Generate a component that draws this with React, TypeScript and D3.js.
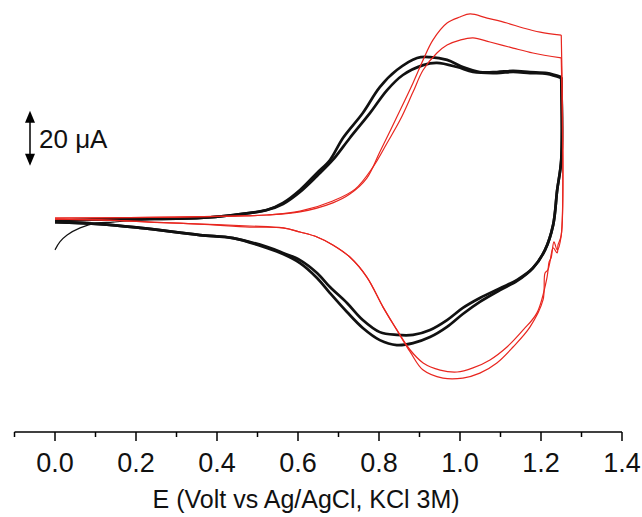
import React from "react";
import * as d3 from "d3";

// ---------- data (E in V vs Ag/AgCl, I in µA) ----------
const blackFwdA_V = [0, 0.111, 0.21, 0.358, 0.44, 0.523, 0.563, 0.605, 0.647, 0.679, 0.711, 0.76, 0.802, 0.844, 0.894, 0.926, 0.968, 1.007, 1.049, 1.091, 1.131, 1.173, 1.215, 1.25];
const blackFwdA_I = [-1.1, -0.5, -0.4, 0, 1.1, 2.9, 5.5, 10.2, 16.4, 21.1, 29.1, 38.2, 47.6, 53.8, 58.2, 58.5, 57.5, 54.9, 53.1, 53.1, 53.5, 53.1, 52.7, 51.3];

const blackFwdB_V = [0, 0.111, 0.21, 0.358, 0.44, 0.523, 0.563, 0.605, 0.647, 0.686, 0.728, 0.778, 0.82, 0.859, 0.909, 0.943, 0.993, 1.032, 1.091, 1.131, 1.173, 1.215, 1.25];
const blackFwdB_I = [-1.1, -0.5, -0.4, 0, 1.1, 2.9, 5.1, 9.5, 15.3, 21.1, 29.1, 38.2, 46.5, 52.0, 55.6, 56.4, 54.9, 53.1, 52.7, 53.1, 52.7, 52.4, 50.9];

const blackRevA_V = [1.25, 1.25, 1.24, 1.23, 1.21, 1.18, 1.141, 1.099, 1.049, 1.007, 0.968, 0.926, 0.884, 0.844, 0.802, 0.76, 0.721, 0.679, 0.647, 0.605, 0.563, 0.523, 0.44, 0.358, 0.21, 0.111, 0];
const blackRevA_I = [51.3, 21.1, 10.2, -2.5, -11.6, -18.2, -22.5, -25.5, -29.1, -32.7, -37.1, -40.7, -42.5, -42.5, -41.5, -37.1, -30.9, -25.1, -20.0, -15.3, -12.7, -10.5, -7.3, -6.2, -3.6, -2.2, -1.5];

const blackRevB_V = [1.25, 1.25, 1.24, 1.23, 1.21, 1.18, 1.141, 1.099, 1.049, 1.007, 0.968, 0.926, 0.884, 0.844, 0.802, 0.76, 0.721, 0.679, 0.647, 0.605, 0.563, 0.523, 0.44, 0.358, 0.21, 0.111, 0];
const blackRevB_I = [50.9, 21.1, 10.2, -2.5, -11.6, -18.2, -22.9, -26.2, -30.5, -34.9, -39.6, -43.3, -45.5, -46.2, -44.4, -40.0, -34.2, -27.3, -21.8, -16.4, -13.1, -10.9, -7.3, -6.2, -3.6, -2.2, -1.5];

const blackStart_V = [0, 0.012, 0.03, 0.062, 0.104, 0.143, 0.21, 0.358];
const blackStart_I = [-11.6, -8.7, -6.2, -3.6, -1.8, -1.5, -0.7, 0];

const redFwdA_V = [0, 0.235, 0.44, 0.523, 0.605, 0.686, 0.728, 0.77, 0.802, 0.844, 0.884, 0.909, 0.933, 0.968, 1.0, 1.025, 1.067, 1.116, 1.156, 1.198, 1.25];
const redFwdA_I = [0, 0.2, 0.7, 1.1, 2.2, 5.5, 8.7, 14.5, 24.0, 36.7, 49.1, 57.5, 64.7, 70.9, 73.1, 74.2, 72.7, 70.9, 69.1, 67.6, 66.5];

const redFwdB_V = [0, 0.235, 0.44, 0.523, 0.605, 0.686, 0.741, 0.785, 0.82, 0.852, 0.884, 0.909, 0.943, 0.968, 1.0, 1.032, 1.074, 1.131, 1.18, 1.25];
const redFwdB_I = [0, 0.2, 0.7, 1.1, 2.5, 6.2, 10.5, 18.5, 27.3, 35.6, 45.8, 53.8, 60.0, 62.9, 64.7, 65.5, 64.0, 61.8, 60.0, 58.2];

const redRevA_V = [1.25, 1.25, 1.242, 1.24, 1.23, 1.222, 1.217, 1.21, 1.205, 1.173, 1.131, 1.091, 1.049, 1.007, 0.958, 0.909, 0.877, 0.844, 0.81, 0.77, 0.728, 0.686, 0.647, 0.605, 0.563, 0.481, 0.358, 0.235, 0.111, 0];
const redRevA_I = [66.5, -6.2, -9.8, -12.7, -10.9, -16.0, -18.9, -20.0, -29.8, -39.6, -46.9, -52.7, -56.4, -58.2, -58.2, -55.3, -48.7, -40.7, -32.4, -21.5, -14.2, -9.8, -6.9, -5.1, -3.6, -2.9, -2.2, -1.5, -0.7, -0.4];

const redRevB_V = [1.25, 1.25, 1.24, 1.232, 1.225, 1.22, 1.215, 1.19, 1.156, 1.116, 1.074, 1.032, 0.993, 0.951, 0.909, 0.877, 0.844, 0.81, 0.77, 0.728, 0.686, 0.647, 0.605, 0.563, 0.481, 0.358, 0.235, 0.111, 0];
const redRevB_I = [58.2, -6.2, -11.6, -8.7, -14.5, -16.0, -21.5, -34.5, -40.7, -46.9, -51.6, -54.5, -56.0, -55.3, -52.7, -48.0, -40.7, -32.4, -21.5, -14.2, -9.8, -6.9, -5.1, -3.6, -3.3, -2.2, -1.5, -0.7, -0.4];

const xTicks = [0.0, 0.2, 0.4, 0.6, 0.8, 1.0, 1.2, 1.4];
const xMinorTicks = [-0.1, 0.1, 0.3, 0.5, 0.7, 0.9, 1.1, 1.3];
const xTitle = "E (Volt vs Ag/AgCl, KCl 3M)";
const scaleBarValue = 20; // µA
const scaleBarTop = 39; // µA level of the upper arrow tip
const scaleBarLabel = "20 \u03bcA";

const W = 642;
const H = 517;

const x = d3.scaleLinear().domain([-0.1, 1.4]).range([14.5, 622]);
const y = d3.scaleLinear().domain([-80, 80]).range([438, -2]);
const axisY = 432;

const lineGen = d3
  .line<[number, number]>()
  .x((d) => x(d[0]))
  .y((d) => y(d[1]))
  .curve(d3.curveCatmullRom.alpha(0.5));

function path(vs: number[], is: number[]) {
  return lineGen(vs.map((v, i) => [v, is[i]] as [number, number])) || "";
}

export default function App() {
  React.useEffect(() => {
    document.body.style.margin = "0";
  }, []);

  const font = "Arial, 'Liberation Sans', Helvetica, sans-serif";
  const barX = 30;
  const yTop = y(scaleBarTop);
  const yBot = y(scaleBarTop - scaleBarValue);

  return (
    <svg width={W} height={H} viewBox={`0 0 ${W} ${H}`} style={{ display: "block", background: "#fff" }}>
      {/* black curves */}
      <g fill="none" stroke="#111" strokeWidth={2.7} strokeLinejoin="round">
        <path d={path(blackFwdA_V, blackFwdA_I)} />
        <path d={path(blackFwdB_V, blackFwdB_I)} />
        <path d={path(blackRevA_V, blackRevA_I)} />
        <path d={path(blackRevB_V, blackRevB_I)} />
        <path d={path(blackStart_V, blackStart_I)} strokeWidth={1.2} />
      </g>
      {/* red curves */}
      <g fill="none" stroke="#e8261f" strokeWidth={1.2} strokeLinejoin="round">
        <path d={path(redFwdA_V, redFwdA_I)} />
        <path d={path(redFwdB_V, redFwdB_I)} />
        <path d={path(redRevA_V, redRevA_I)} />
        <path d={path(redRevB_V, redRevB_I)} />
      </g>

      {/* x axis */}
      <g stroke="#000" strokeWidth={1.5}>
        <line x1={x(-0.1)} x2={x(1.4)} y1={axisY} y2={axisY} />
        {xTicks.map((t) => (
          <line key={"M" + t} x1={x(t)} x2={x(t)} y1={axisY} y2={axisY + 9} />
        ))}
        {xMinorTicks.map((t) => (
          <line key={"m" + t} x1={x(t)} x2={x(t)} y1={axisY} y2={axisY + 5} />
        ))}
      </g>
      <g fontFamily={font} fill="#111" textAnchor="middle">
        {xTicks.map((t) => (
          <text key={"l" + t} x={x(t)} y={472} fontSize={27}>
            {t.toFixed(1)}
          </text>
        ))}
        <text x={x(0.62)} y={508} fontSize={25}>{xTitle}</text>
      </g>

      {/* scale bar */}
      <g>
        <line x1={barX} x2={barX} y1={yTop + 6} y2={yBot - 6} stroke="#000" strokeWidth={1.5} />
        <path d={`M${barX},${yTop} L${barX - 5},${yTop + 12} L${barX + 5},${yTop + 12} Z`} fill="#000" />
        <path d={`M${barX},${yBot} L${barX - 5},${yBot - 12} L${barX + 5},${yBot - 12} Z`} fill="#000" />
        <text x={barX + 9} y={(yTop + yBot) / 2 + 10} fontFamily={font} fontSize={26} fill="#111">
          {scaleBarLabel}
        </text>
      </g>
    </svg>
  );
}
